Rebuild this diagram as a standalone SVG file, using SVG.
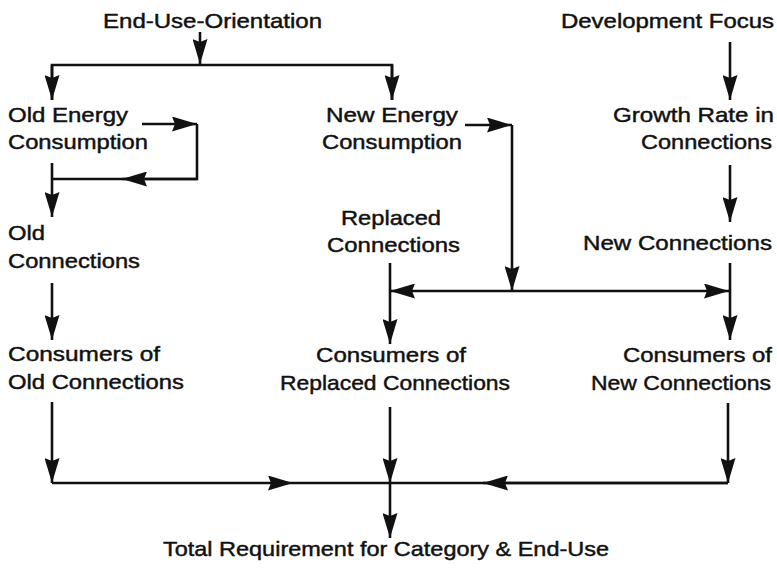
<svg xmlns="http://www.w3.org/2000/svg" width="777" height="568" viewBox="0 0 777 568">
<defs>
<style>
text{font-family:"Liberation Sans",Arial,Helvetica,sans-serif;font-size:21px;fill:#111;stroke:#111;stroke-width:0.45;}
.c line,.c path{stroke:#111;stroke-width:2.6;fill:none;}
</style>
<marker id="ah" markerUnits="userSpaceOnUse" markerWidth="26" markerHeight="15" refX="25" refY="7.5" orient="auto" viewBox="0 0 26 15">
<path d="M0,0 L25,7.5 L0,15 L3,7.5 z" fill="#111"/>
</marker>
</defs>
<rect width="777" height="568" fill="#fff"/>
<g id="n-enduse"><text x="103" y="28" textLength="219" lengthAdjust="spacingAndGlyphs">End-Use-Orientation</text></g>
<g id="n-devfocus"><text x="561" y="28" textLength="213" lengthAdjust="spacingAndGlyphs">Development Focus</text></g>
<g id="n-oldenergy"><text x="8" y="122" textLength="120" lengthAdjust="spacingAndGlyphs">Old Energy</text><text x="8" y="149" textLength="140" lengthAdjust="spacingAndGlyphs">Consumption</text></g>
<g id="n-newenergy"><text x="326" y="122" textLength="132" lengthAdjust="spacingAndGlyphs">New Energy</text><text x="322" y="149" textLength="140" lengthAdjust="spacingAndGlyphs">Consumption</text></g>
<g id="n-growth"><text x="613" y="122" textLength="161" lengthAdjust="spacingAndGlyphs">Growth Rate in</text><text x="641" y="149" textLength="131" lengthAdjust="spacingAndGlyphs">Connections</text></g>
<g id="n-oldconn"><text x="8" y="240" textLength="37" lengthAdjust="spacingAndGlyphs">Old</text><text x="8" y="268" textLength="132" lengthAdjust="spacingAndGlyphs">Connections</text></g>
<g id="n-replconn"><text x="341" y="225" textLength="100" lengthAdjust="spacingAndGlyphs">Replaced</text><text x="327" y="252" textLength="133" lengthAdjust="spacingAndGlyphs">Connections</text></g>
<g id="n-newconn"><text x="583" y="250" textLength="189" lengthAdjust="spacingAndGlyphs">New Connections</text></g>
<g id="n-consold"><text x="8" y="361" textLength="152" lengthAdjust="spacingAndGlyphs">Consumers of</text><text x="8" y="389" textLength="176" lengthAdjust="spacingAndGlyphs">Old Connections</text></g>
<g id="n-consrepl"><text x="316" y="362" textLength="150" lengthAdjust="spacingAndGlyphs">Consumers of</text><text x="280" y="390" textLength="230" lengthAdjust="spacingAndGlyphs">Replaced Connections</text></g>
<g id="n-consnew"><text x="623" y="362" textLength="149" lengthAdjust="spacingAndGlyphs">Consumers of</text><text x="591" y="390" textLength="180" lengthAdjust="spacingAndGlyphs">New Connections</text></g>
<g id="n-total"><text x="163" y="556" textLength="446" lengthAdjust="spacingAndGlyphs">Total Requirement for Category &amp; End-Use</text></g>
<g id="connectors" class="c">
<line x1="200" y1="32" x2="200" y2="64" marker-end="url(#ah)"/>
<path d="M52,100 V65 H392 V100"/>
<line x1="52" y1="65" x2="52" y2="100" marker-end="url(#ah)"/>
<line x1="392" y1="65" x2="392" y2="100" marker-end="url(#ah)"/>
<line x1="142" y1="124" x2="197" y2="124" marker-end="url(#ah)"/>
<path d="M197,124 V179 H122"/>
<line x1="197" y1="179" x2="122" y2="179" marker-end="url(#ah)"/>
<line x1="122" y1="179" x2="52" y2="179"/>
<line x1="52" y1="163" x2="52" y2="217" marker-end="url(#ah)"/>
<line x1="52" y1="283" x2="52" y2="340" marker-end="url(#ah)"/>
<line x1="465" y1="125" x2="512" y2="125" marker-end="url(#ah)"/>
<line x1="512" y1="125" x2="512" y2="291" marker-end="url(#ah)"/>
<line x1="512" y1="291" x2="390" y2="291" marker-end="url(#ah)"/>
<line x1="512" y1="291" x2="729" y2="291" marker-end="url(#ah)"/>
<line x1="390" y1="263" x2="390" y2="344" marker-end="url(#ah)"/>
<line x1="730" y1="42" x2="730" y2="100" marker-end="url(#ah)"/>
<line x1="730" y1="165" x2="730" y2="222" marker-end="url(#ah)"/>
<line x1="730" y1="263" x2="730" y2="340" marker-end="url(#ah)"/>
<line x1="52" y1="402" x2="52" y2="483" marker-end="url(#ah)"/>
<line x1="390" y1="407" x2="390" y2="483" marker-end="url(#ah)"/>
<line x1="728" y1="403" x2="728" y2="483" marker-end="url(#ah)"/>
<line x1="52" y1="483" x2="293" y2="483" marker-end="url(#ah)"/>
<line x1="293" y1="483" x2="728" y2="483"/>
<line x1="728" y1="483" x2="483" y2="483" marker-end="url(#ah)"/>
<line x1="390" y1="483" x2="390" y2="538" marker-end="url(#ah)"/>
</g>
</svg>
